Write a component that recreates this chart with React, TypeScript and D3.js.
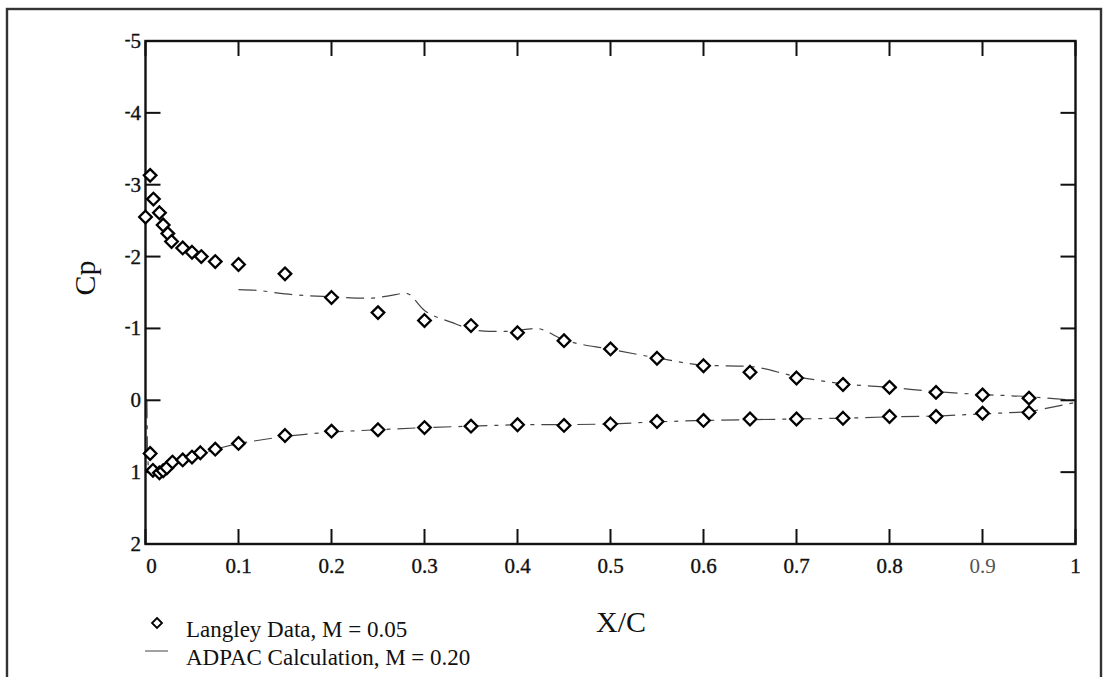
import React from "react";
import * as d3 from "d3";

// Langley data, upper surface (X/C, Cp)
const upperX = [0, 0.005, 0.0085, 0.015, 0.019, 0.024, 0.028, 0.04, 0.05, 0.06, 0.075, 0.1, 0.15, 0.2, 0.25, 0.3, 0.35, 0.4, 0.45, 0.5, 0.55, 0.6, 0.65, 0.7, 0.75, 0.8, 0.85, 0.9, 0.95];
const upperCp = [-2.55, -3.13, -2.8, -2.61, -2.44, -2.32, -2.21, -2.12, -2.06, -2.0, -1.93, -1.89, -1.76, -1.43, -1.22, -1.11, -1.04, -0.94, -0.83, -0.715, -0.585, -0.48, -0.39, -0.31, -0.22, -0.18, -0.11, -0.075, -0.03];
// Langley data, lower surface
const lowerX = [0.005, 0.008, 0.015, 0.019, 0.023, 0.029, 0.04, 0.05, 0.059, 0.075, 0.1, 0.15, 0.2, 0.25, 0.3, 0.35, 0.4, 0.45, 0.5, 0.55, 0.6, 0.65, 0.7, 0.75, 0.8, 0.85, 0.9, 0.95];
const lowerCp = [0.74, 0.975, 1.01, 0.98, 0.94, 0.86, 0.83, 0.79, 0.73, 0.68, 0.6, 0.49, 0.43, 0.41, 0.38, 0.36, 0.34, 0.35, 0.33, 0.295, 0.28, 0.26, 0.26, 0.25, 0.225, 0.225, 0.18, 0.17];

// ADPAC calculation
const calcUpperX = [0.1, 0.12, 0.15, 0.2, 0.24, 0.26, 0.28, 0.3, 0.33, 0.35, 0.37, 0.39, 0.42, 0.45, 0.5, 0.55, 0.6, 0.65, 0.7, 0.75, 0.8, 0.85, 0.9, 0.95, 0.98, 1.0];
const calcUpperCp = [-1.54, -1.53, -1.48, -1.44, -1.42, -1.45, -1.49, -1.25, -1.08, -0.99, -0.96, -0.96, -1.0, -0.84, -0.71, -0.59, -0.49, -0.47, -0.33, -0.23, -0.18, -0.12, -0.08, -0.05, -0.02, 0.0];
const calcLowerX = [0.0015, 0.002, 0.003, 0.006, 0.012, 0.02, 0.03, 0.05, 0.075, 0.1, 0.15, 0.2, 0.25, 0.3, 0.35, 0.4, 0.45, 0.5, 0.55, 0.6, 0.65, 0.7, 0.75, 0.8, 0.85, 0.9, 0.95, 1.0];
const calcLowerCp = [0.0, 0.7, 0.92, 0.99, 0.99, 0.95, 0.88, 0.78, 0.68, 0.6, 0.5, 0.44, 0.41, 0.38, 0.36, 0.34, 0.34, 0.33, 0.3, 0.28, 0.27, 0.26, 0.25, 0.23, 0.22, 0.19, 0.16, 0.03];

const xTicks = [0, 0.1, 0.2, 0.3, 0.4, 0.5, 0.6, 0.7, 0.8, 0.9, 1];
const xTickLabels = ["0", "0.1", "0.2", "0.3", "0.4", "0.5", "0.6", "0.7", "0.8", "0.9", "1"];
const yTicks = [-5, -4, -3, -2, -1, 0, 1, 2];

const legendLabels = ["Langley Data, M = 0.05", "ADPAC Calculation, M = 0.20"];

export default function App() {
  const W = 1105, H = 677;
  const left = 145.5, right = 1075.5, top = 41, bottom = 544;
  const x = d3.scaleLinear().domain([0, 1]).range([left, right]);
  const y = d3.scaleLinear().domain([-5, 2]).range([top, bottom]);
  const line = d3.line<[number, number]>().x(d => x(d[0])).y(d => y(d[1])).curve(d3.curveMonotoneX);
  const upperLine = line(calcUpperX.map((v, i) => [v, calcUpperCp[i]] as [number, number]));
  const lowerLine = d3.line<[number, number]>().x(d => x(d[0])).y(d => y(d[1])).curve(d3.curveLinear)(calcLowerX.map((v, i) => [v, calcLowerCp[i]] as [number, number]));
  const diamond = (cx: number, cy: number, r: number) => `M${cx},${cy - r}L${cx + r},${cy}L${cx},${cy + r}L${cx - r},${cy}Z`;
  const font = "'Liberation Serif', 'Times New Roman', serif";
  const tickLen = 15;
  return (
    <svg width={W} height={H} style={{ position: "absolute", left: 0, top: 0, background: "#fff" }} fontFamily={font}>
      <rect x={7} y={9} width={1094} height={700} fill="none" stroke="#333" strokeWidth={2.4} />
      {/* calculation lines */}
      <g fill="none" stroke="#444" strokeWidth={1.2} strokeDasharray="18 7 4 7">
        <path d={upperLine || ""} />
        <path d={lowerLine || ""} />
      </g>
      {/* plot frame */}
      <rect x={left} y={top} width={right - left} height={bottom - top} fill="none" stroke="#111" strokeWidth={2.4} />
      {/* ticks */}
      <g stroke="#111" strokeWidth={2}>
        {xTicks.map((t, i) => (
          <g key={"xt" + i}>
            <line x1={x(t)} x2={x(t)} y1={bottom} y2={bottom - tickLen} />
            <line x1={x(t)} x2={x(t)} y1={top} y2={top + tickLen} />
          </g>
        ))}
        {yTicks.map((t, i) => (
          <g key={"yt" + i}>
            <line x1={left} x2={left + tickLen} y1={y(t)} y2={y(t)} />
            <line x1={right} x2={right - tickLen} y1={y(t)} y2={y(t)} />
          </g>
        ))}
      </g>
      {/* tick labels */}
      <g fontSize={21} fill="#111" stroke="#111" strokeWidth={0.35}>
        {xTicks.map((t, i) => (
          <text key={"xl" + i} x={x(t) + (i === 0 ? 6 : 0)} y={573} textAnchor="middle" fill={i === 9 ? "#555" : "#111"} stroke={i === 9 ? "none" : "#111"}>{xTickLabels[i]}</text>
        ))}
        {yTicks.map((t, i) => (
          <text key={"yl" + i} x={141} y={y(t) + 7} textAnchor="end">
            {t < 0 ? <tspan fontSize={17} dy={-3}>-</tspan> : null}
            <tspan dy={t < 0 ? 3 : 0}>{Math.abs(t)}</tspan>
          </text>
        ))}
      </g>
      {/* axis titles */}
      <text transform={`translate(95,${278}) rotate(-90)`} textAnchor="middle" fontSize={30} fill="#111">Cp</text>
      <text x={621} y={632} textAnchor="middle" fontSize={30} fill="#111">X/C</text>
      {/* markers */}
      <g fill="#fff" stroke="#000" strokeWidth={2.3}>
        {upperX.map((v, i) => <path key={"u" + i} d={diamond(x(v), y(upperCp[i]), 6.3)} />)}
        {lowerX.map((v, i) => <path key={"l" + i} d={diamond(x(v), y(lowerCp[i]), 6.3)} />)}
      </g>
      {/* legend */}
      <path d={diamond(157, 623, 5)} fill="#fff" stroke="#000" strokeWidth={1.8} />
      <line x1={145} x2={168} y1={651} y2={651} stroke="#444" strokeWidth={1} />
      <g fontSize={23} fill="#111">
        <text x={186} y={637}>{legendLabels[0]}</text>
        <text x={186} y={665}>{legendLabels[1]}</text>
      </g>
    </svg>
  );
}
